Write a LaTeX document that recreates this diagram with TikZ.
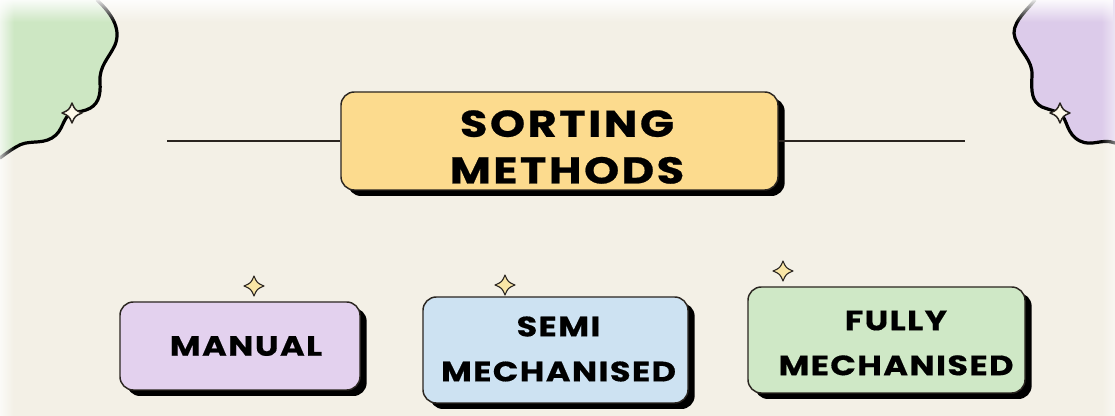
\documentclass[tikz,border=0pt]{standalone}
\usepackage{fontspec}
\usetikzlibrary{shadows,fadings}
\newfontfamily\tfont{Poppins}[LetterSpace=6.5, FakeStretch=1.2, FakeBold=0.6]
\newfontfamily\cfont{Poppins}[LetterSpace=5, FakeStretch=1.2, FakeBold=0.5]
\definecolor{bgc}{HTML}{F3F0E6}
\definecolor{titlec}{HTML}{FCDB8E}
\definecolor{manc}{HTML}{E3D1EE}
\definecolor{semic}{HTML}{CDE2F2}
\definecolor{fullc}{HTML}{CFE8C6}
\definecolor{blobg}{HTML}{CDE7C3}
\definecolor{blobp}{HTML}{DCCBEA}
\definecolor{starc}{HTML}{F9E6A6}
\definecolor{edgec}{HTML}{2A2520}
\tikzset{
  card/.style={draw=edgec, line width=1.1pt, rounded corners=10pt,
    drop shadow={shadow xshift=5pt, shadow yshift=-4.5pt, fill=black, opacity=1},
    inner sep=0pt},
  bigtxt/.style={align=center, inner sep=0pt, font=\tfont\bfseries\fontsize{28}{35}\selectfont},
  smalltxt/.style={align=center, inner sep=0pt, font=\cfont\bfseries\fontsize{21}{33.75}\selectfont},
  sparkle/.pic={\path[pic actions] (0,-1) .. controls (0.3,-0.3) .. (1,0) .. controls (0.3,0.3) .. (0,1) .. controls (-0.3,0.3) .. (-1,0) .. controls (-0.3,-0.3) .. cycle;},
  starsty/.style={draw=edgec, line width=0.8pt, fill=starc, line join=round},
  wave/.style={draw=black, line width=2.4pt, line cap=round}
}
\begin{document}
\begin{tikzpicture}[x=0.75pt, y=-0.75pt]
\fill[bgc] (0,0) rectangle (1115,416);
\useasboundingbox (0,0) rectangle (1115,416);
% corner blobs
\fill[blobg] (0,0) -- (97,0) .. controls (110,12) and (122,28) .. (115,45) .. controls (109,58) and (99,66) .. (100,82) .. controls (101,96) and (98,106) .. (86,110) .. controls (80,112) and (76,112) .. (72,113) .. controls (62,117) and (64,131) .. (52,138) .. controls (40,145) and (28,139) .. (16,147) .. controls (9,151) and (4,155) .. (0,158) -- cycle;
\draw[wave] (97,0) .. controls (110,12) and (122,28) .. (115,45) .. controls (109,58) and (99,66) .. (100,82) .. controls (101,96) and (98,106) .. (86,110) .. controls (80,112) and (76,112) .. (72,113) .. controls (62,117) and (64,131) .. (52,138) .. controls (40,145) and (28,139) .. (16,147) .. controls (9,151) and (4,155) .. (0,158);
\fill[blobp] (1115,0) -- (1035,0) .. controls (1025,12) and (1010,25) .. (1015,38) .. controls (1020,52) and (1033,60) .. (1032,76) .. controls (1031,92) and (1032,102) .. (1042,107) .. controls (1050,110) and (1055,111) .. (1060,113) .. controls (1068,120) and (1066,134) .. (1080,141) .. controls (1092,147) and (1102,138) .. (1115,143) -- cycle;
\draw[wave] (1035,0) .. controls (1025,12) and (1010,25) .. (1015,38) .. controls (1020,52) and (1033,60) .. (1032,76) .. controls (1031,92) and (1032,102) .. (1042,107) .. controls (1050,110) and (1055,111) .. (1060,113) .. controls (1068,120) and (1066,134) .. (1080,141) .. controls (1092,147) and (1102,138) .. (1115,143);
\pic[starsty, fill=white!75!starc, line width=1.1pt, scale=10] (s1) at (72,113) {sparkle};
\pic[starsty, fill=white!75!starc, line width=1.1pt, scale=10] (s2) at (1060,113) {sparkle};
% soft fades at top and sides
\fill[white, path fading=south, opacity=0.9] (0,0) rectangle (1115,22);
\fill[white, path fading=east, opacity=0.7] (0,0) rectangle (14,416);
\fill[white, path fading=west, opacity=0.5] (1101,0) rectangle (1115,416);
% title
\coordinate (lL) at (167,141);
\coordinate (lR) at (965,141);
\node[card, fill=titlec, minimum width=327.75pt, minimum height=73.5pt] (title) at (559.5,141) {};
\node[bigtxt] (titleT) at (567,147) {SORTING\\METHODS};
\draw[edgec, line width=0.8pt] (lL) -- (title.west);
\draw[edgec, line width=0.8pt] (title.east) -- (lR);
% categories
\node[card, fill=manc, minimum width=180pt, minimum height=66pt] (man) at (240,346) {};
\node[smalltxt] (manT) at (246,346) {MANUAL};
\node[card, fill=semic, minimum width=198.75pt, minimum height=79.5pt] (semi) at (555.5,350) {};
\node[smalltxt] (semiT) at (558.5,349) {SEMI\\MECHANISED};
\node[card, fill=fullc, minimum width=207.75pt, minimum height=79.5pt] (full) at (886.5,340) {};
\node[smalltxt] (fullT) at (896,343) {FULLY\\MECHANISED};
% sparkles
\pic[starsty, scale=10] (k1) at (254,286) {sparkle};
\pic[starsty, scale=10] (k2) at (505,285) {sparkle};
\pic[starsty, scale=10] (k3) at (783,271) {sparkle};
\end{tikzpicture}
\end{document}
